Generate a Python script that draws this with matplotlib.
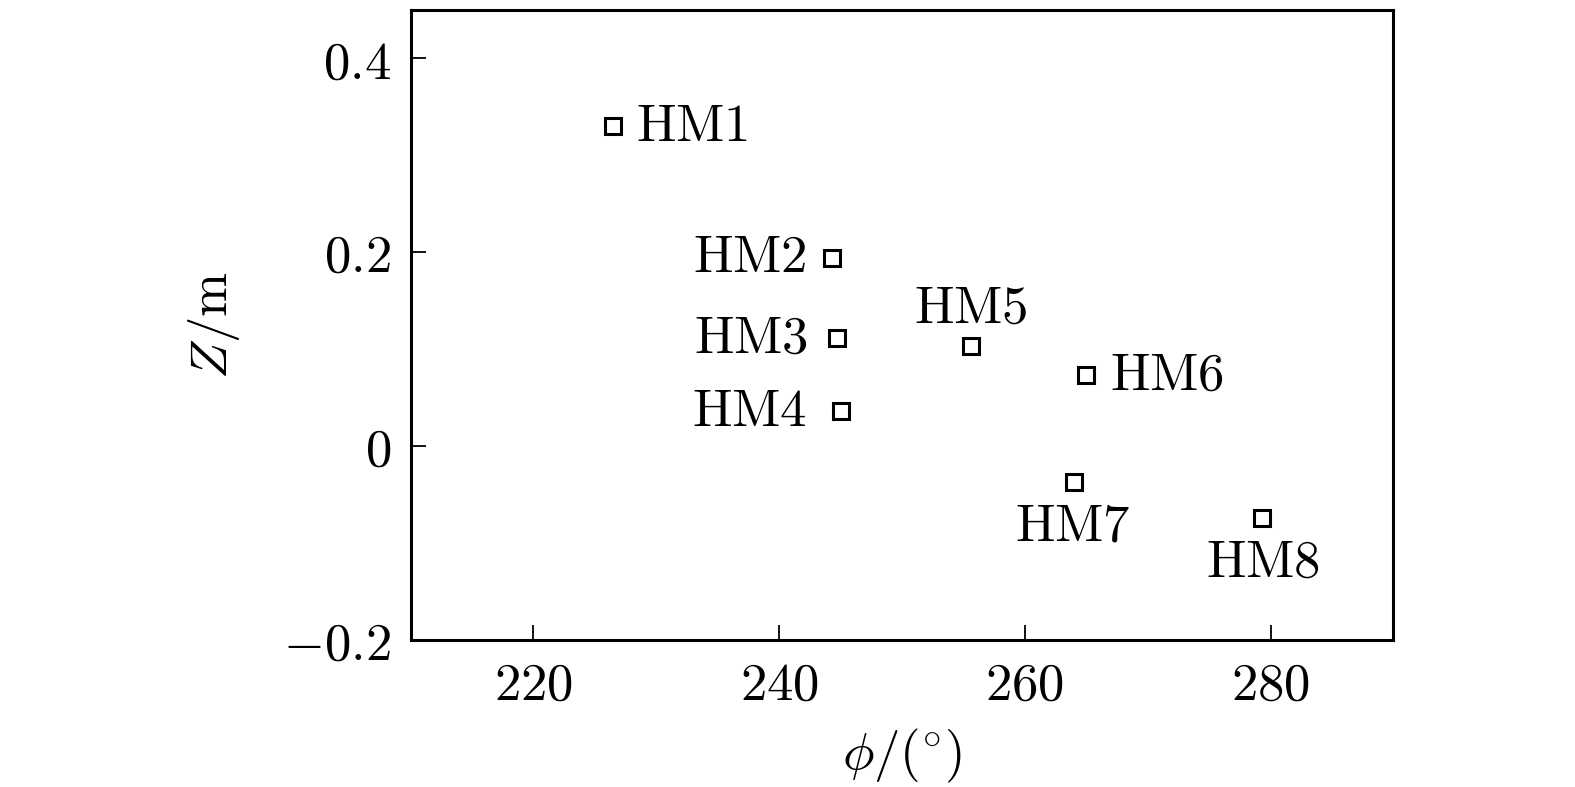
import matplotlib
matplotlib.use("Agg")
import matplotlib.pyplot as plt
from matplotlib.ticker import FuncFormatter

# phi (deg) and Z (m) for each marker
names = ["HM1", "HM2", "HM3", "HM4", "HM5", "HM6", "HM7", "HM8"]
phi = [226.5, 244.3, 244.7, 245.0, 255.6, 265.0, 264.0, 279.3]
z = [0.330, 0.194, 0.111, 0.036, 0.103, 0.073, -0.037, -0.074]

# label placement (offset in points, alignment)
offsets = [(16, 0), (-18, 0), (-21, 0), (-24, 0), (0, 27), (17, 0), (-1, -32), (1, -32)]
aligns = ["left", "right", "right", "right", "center", "left", "center", "center"]

plt.rcParams['mathtext.fontset'] = 'cm'
plt.rcParams['font.family'] = 'serif'
plt.rcParams['font.serif'] = ['DejaVu Serif']
fs = 38

fig = plt.figure(figsize=(15.75, 7.87), dpi=100)
ax = fig.add_axes([0.2607, 0.187, 0.624, 0.8005])

ax.plot(phi, z, 's', ls='none', ms=11, mfc='white', mec='black', mew=2.2)

for name, x, y, off, ha in zip(names, phi, z, offsets, aligns):
    ax.annotate(r'$\mathrm{%s}$' % name, (x, y), xytext=off, textcoords='offset points',
                ha=ha, va='center', fontsize=fs)

ax.set_xlim(210, 290)
ax.set_ylim(-0.2, 0.45)
ax.set_xticks([220, 240, 260, 280])
ax.set_yticks([-0.2, 0, 0.2, 0.4])
ax.xaxis.set_major_formatter(FuncFormatter(lambda v, p: r'$%d$' % v))
ax.yaxis.set_major_formatter(FuncFormatter(lambda v, p: r'$0$' if abs(v) < 1e-9 else r'$%.1f$' % v))

ax.tick_params(direction='in', length=11, width=1.3, labelsize=fs, pad=14)
for s in ax.spines.values():
    s.set_linewidth(2.2)

ax.set_xlabel(r'$\phi/({}^{\circ})$', fontsize=fs, labelpad=12)
ax.set_ylabel(r'$Z/\mathrm{m}$', fontsize=fs, labelpad=30)

fig.savefig('out.png', dpi=100)
